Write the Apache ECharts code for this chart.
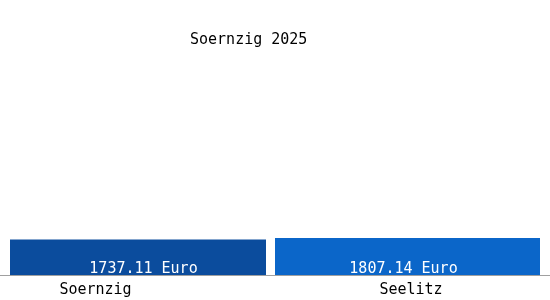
<!DOCTYPE html>
<html>
<head>
<meta charset="utf-8">
<script src="https://cdn.jsdelivr.net/npm/echarts@6/dist/echarts.min.js"></script>
<style>html,body{margin:0;padding:0;background:#fff}#c{width:550px;height:300px}</style>
</head>
<body>
<div id="c"></div>
<script>
var titleText = 'Soernzig 2025';
var categories = ['Soernzig', 'Seelitz'];
var valuesSoernzig = [1737.11, '-'];
var valuesSeelitz = ['-', 1807.14];
var unit = ' Euro';

var font = 'DejaVu Sans Mono';
var chart = echarts.init(document.getElementById('c'));
chart.setOption({
  backgroundColor: '#ffffff',
  animation: false,
  title: {
    text: titleText, left: 185, top: 28,
    textStyle: {fontFamily: font, fontSize: 15, fontWeight: 'normal', color: '#000'}
  },
  grid: [
    {left: 10, right: 10, top: 50, bottom: 25},
    {left: 0, right: 0, top: 50, bottom: 25}
  ],
  xAxis: [
    {
      type: 'category', data: categories, gridIndex: 0,
      axisLine: {show: false}, axisTick: {show: false},
      axisLabel: {
        margin: 8, fontFamily: font, fontSize: 15, color: '#000',
        formatter: function (v, i) { return i === 0 ? '{a|' + v + '}' : '{b|' + v + '}'; },
        rich: {
          a: {fontFamily: font, fontSize: 15, color: '#000', padding: [0, 94, 0, 0]},
          b: {fontFamily: font, fontSize: 15, color: '#000', padding: [0, 0, 0, 7]}
        }
      }
    },
    {
      type: 'value', gridIndex: 1, min: 0, max: 1,
      axisLine: {show: true, onZero: false, lineStyle: {color: '#a0a0a0', width: 1}},
      axisTick: {show: false}, axisLabel: {show: false}, splitLine: {show: false}
    }
  ],
  yAxis: [
    {type: 'value', gridIndex: 0, min: 0, max: 11000, show: false},
    {type: 'value', gridIndex: 1, min: 0, max: 1, show: false}
  ],
  series: [
    {
      type: 'bar', data: valuesSoernzig, barWidth: 256, barGap: '-100%',
      itemStyle: {color: '#0b4c9d'},
      label: {
        show: true, position: 'insideBottom', distance: 1, offset: [5.5, 3],
        fontFamily: font, fontSize: 15, color: '#fff',
        formatter: function (p) { return p.value.toFixed(2) + unit; }
      }
    },
    {
      type: 'bar', data: valuesSeelitz, barWidth: 265, barGap: '-100%',
      itemStyle: {color: '#0b66c9'},
      label: {
        show: true, position: 'insideBottom', distance: 1, offset: [-4, 3],
        fontFamily: font, fontSize: 15, color: '#fff',
        formatter: function (p) { return p.value.toFixed(2) + unit; }
      }
    }
  ]
});
</script>
</body>
</html>
